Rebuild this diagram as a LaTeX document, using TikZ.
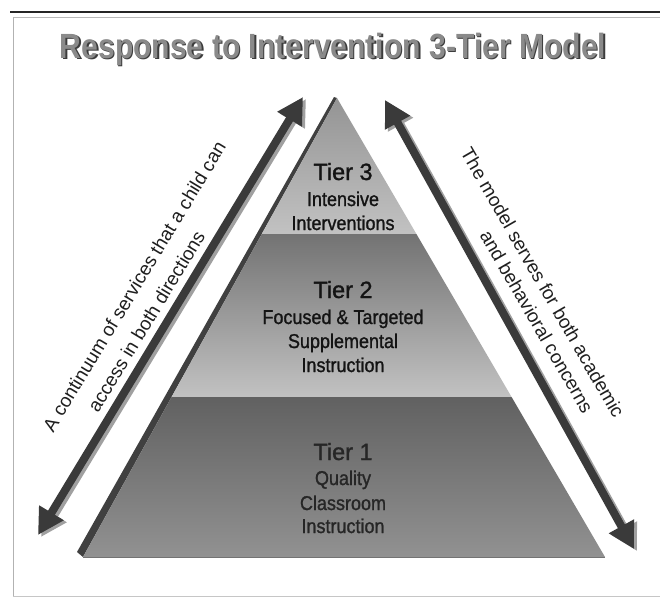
\documentclass[tikz,border=0pt]{standalone}
\usepackage{fontspec}
\setmainfont{Liberation Sans}
\newfontfamily\titlefont[FakeStretch=0.86]{Liberation Sans}
\newfontfamily\tierfont[FakeStretch=0.9,FakeBold=1.2]{Liberation Sans}
\newfontfamily\tierheadfont[FakeBold=1.2]{Liberation Sans}
\usetikzlibrary{arrows.meta,calc}
\definecolor{arrowdark}{HTML}{3A3A3A}
\definecolor{arrowshadow}{HTML}{A0A0A0}
\definecolor{titlegray}{HTML}{8A8A8A}
\definecolor{titleshadow}{HTML}{3C3C3C}
\definecolor{edgedark}{HTML}{404040}
\begin{document}
\begin{tikzpicture}[x=1pt,y=-1pt,
  tiertitle/.style={font=\tierheadfont\fontsize{23.5}{26}\selectfont, anchor=base, text=black!92, inner sep=0pt},
  tiertext/.style={font=\tierfont\fontsize{20}{22}\selectfont, anchor=base, text=black!92, inner sep=0pt},
  tierone/.style={text=black!85},
  sidetext/.style={font=\fontsize{19}{22}\selectfont, anchor=base, inner sep=0pt, text=black!88},
  bigarrow/.style={line width=8pt, draw=arrowdark, {Triangle[length=26pt,width=27pt]}-{Triangle[length=26pt,width=27pt]}},
  shadowarrow/.style={bigarrow, draw=arrowshadow},
  titlestyle/.style={font=\titlefont\bfseries\fontsize{35}{40}\selectfont, anchor=base, inner sep=0pt}]
\useasboundingbox (0,0) rectangle (660,598);
\fill[white] (0,0) rectangle (660,598);
% frame
\draw[line width=2pt, black!85] (10,12) -- (660,12);
\draw[line width=0.8pt, gray!55] (13,17) -- (660,17);
\draw[line width=0.8pt, gray!60] (13,17) -- (13,597);
\draw[line width=0.8pt, gray!45] (13,596.5) -- (660,596.5);
% title
\node[titlestyle, text=titleshadow] (titleshadow) at (334.5,59.5) {Response to Intervention 3-Tier Model};
\node[titlestyle, text=titlegray] (title) at (333,58) {Response to Intervention 3-Tier Model};
% pyramid geometry
\coordinate (A) at (337,98);
\coordinate (BL) at (83,557);
\coordinate (BR) at (605,557);
\coordinate (L1) at ($(A)!0.2963!(BL)$);
\coordinate (R1) at ($(A)!0.2963!(BR)$);
\coordinate (L2) at ($(A)!0.6514!(BL)$);
\coordinate (R2) at ($(A)!0.6514!(BR)$);
% left bevel
\fill[edgedark] ($(A)+(-3,-1)$) -- ($(BL)+(-6,-5)$) -- (BL) -- (A) -- cycle;
% tiers
\shade[top color=black!42, bottom color=black!24] (A) -- (L1) -- (R1) -- cycle;
\shade[top color=black!55, middle color=black!34, bottom color=black!24] (L1) -- (L2) -- (R2) -- (R1) -- cycle;
\shade[top color=black!62, middle color=black!48, bottom color=black!43] (L2) -- (BL) -- (BR) -- (R2) -- cycle;
\draw[line width=1pt, black!55] (BL) -- (BR);
% tier texts
\node[tiertitle] (t3a) at (343,180) {Tier 3};
\node[tiertext] (t3b) at (343,206) {Intensive};
\node[tiertext] (t3c) at (343,230) {Interventions};
\node[tiertitle] (t2a) at (343,298) {Tier 2};
\node[tiertext] (t2b) at (343,324) {Focused \& Targeted};
\node[tiertext] (t2c) at (343,348) {Supplemental};
\node[tiertext] (t2d) at (343,372) {Instruction};
\node[tiertitle, tierone] (t1a) at (343,460) {Tier 1};
\node[tiertext, tierone] (t1b) at (343,485) {Quality};
\node[tiertext, tierone] (t1c) at (343,510) {Classroom};
\node[tiertext, tierone] (t1d) at (343,533) {Instruction};
% arrows
\coordinate (LA1) at (38,535);
\coordinate (LA2) at (303,97);
\coordinate (RA1) at (385,100);
\coordinate (RA2) at (634,549);
\coordinate (LS1) at ($(LA1)+(3,2)$);
\coordinate (LS2) at ($(LA2)+(3,2)$);
\coordinate (RS1) at ($(RA1)+(3,2)$);
\coordinate (RS2) at ($(RA2)+(3,2)$);
\draw[shadowarrow] (LS1) -- (LS2);
\draw[shadowarrow] (RS1) -- (RS2);
\draw[bigarrow] (LA1) -- (LA2);
\draw[bigarrow] (RA1) -- (RA2);
% side texts
\node[sidetext, rotate=58.8] (lt1) at (140,290) {A continuum of services that a child can};
\node[sidetext, rotate=58.8] (lt2) at (152,325) {access in both directions};
\node[sidetext, rotate=-60] (rt1) at (537,286) {The model serves for both academic};
\node[sidetext, rotate=-60] (rt2) at (531,325) {and behavioral concerns};
\end{tikzpicture}
\end{document}
